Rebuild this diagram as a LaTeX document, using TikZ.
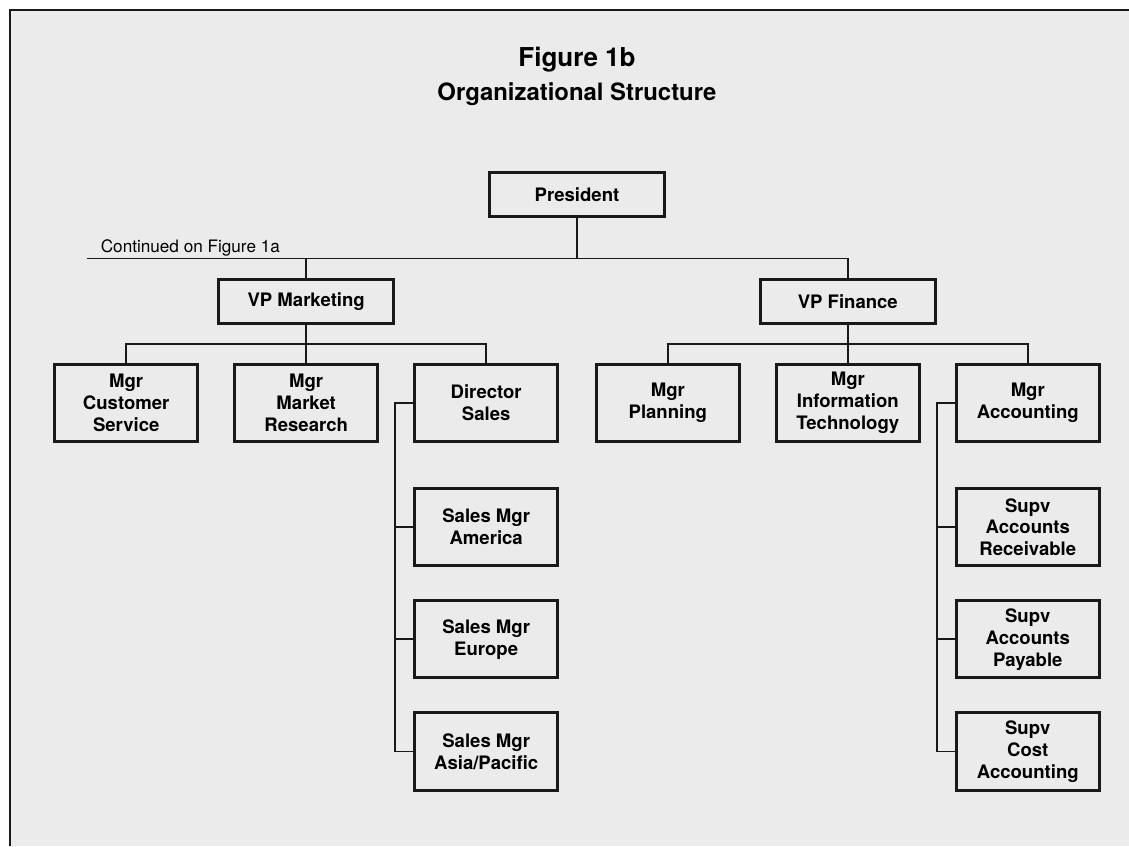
\documentclass[tikz,border=0pt]{standalone}
\usepackage{fontspec}
\setmainfont{TeX Gyre Heros}
\usetikzlibrary{positioning}
\definecolor{fundo}{RGB}{235,235,235}
\definecolor{traco}{RGB}{25,25,25}

\begin{document}
\begin{tikzpicture}[
    line width=1.2pt,
    draw=traco,
    font=\bfseries\fontsize{13.2}{15.6}\selectfont,
    node distance=0.85cm,
    cargo/.style={draw=traco, rectangle, line width=2.1pt, minimum width=3.576cm, minimum height=1.93cm, align=center, inner sep=2pt},
    diretoria/.style={cargo, minimum width=4.376cm, minimum height=1.1cm}
]
    % painel cinza com borda so em cima e a esquerda
    \useasboundingbox (-14.425,-16.29) rectangle (13.8,4.8625);
    \fill[fundo] (-14.175,-16.29) rectangle (13.8,4.6125);
    \draw[traco, line width=1pt] (-14.175,-16.29) |- (13.8,4.6125);

    \node[anchor=base, font=\bfseries\fontsize{18.5}{22}\selectfont] (titulo) at (0,3.21) {Figure 1b};
    \node[anchor=base, font=\bfseries\fontsize{17}{20}\selectfont] (subtitulo) at (0,2.36) {Organizational Structure};

    \node[diretoria] (presidente) {President};
    \node[diretoria, below=1.5cm of presidente, xshift=-6.77cm] (vpmkt) {VP Marketing};
    \node[diretoria, below=1.5cm of presidente, xshift=6.77cm] (vpfin) {VP Finance};

    % marketing
    \node[cargo, below=0.95cm of vpmkt] (pesquisa) {Mgr\\Market\\Research};
    \node[cargo, left=of pesquisa] (atendimento) {Mgr\\Customer\\Service};
    \node[cargo, right=of pesquisa] (vendas) {Director\\Sales};
    \node[cargo, below=1.1cm of vendas] (america) {Sales Mgr\\America};
    \node[cargo, below=0.8cm of america] (europa) {Sales Mgr\\Europe};
    \node[cargo, below=0.8cm of europa] (asia) {Sales Mgr\\Asia/Pacific};

    % financas
    \node[cargo, below=0.95cm of vpfin] (ti) {Mgr\\Information\\Technology};
    \node[cargo, left=of ti] (planejamento) {Mgr\\Planning};
    \node[cargo, right=of ti] (contabil) {Mgr\\Accounting};
    \node[cargo, below=1.1cm of contabil] (receber) {Supv\\Accounts\\Receivable};
    \node[cargo, below=0.8cm of receber] (pagar) {Supv\\Accounts\\Payable};
    \node[cargo, below=0.8cm of pagar] (custos) {Supv\\Cost\\Accounting};

    % linha que segue para a outra folha
    \coordinate (continua) at (-12.25,-1.6);
    \node[anchor=base west, inner sep=0pt, font=\fontsize{12.2}{14}\selectfont] (nota) at ([xshift=0.325cm, yshift=0.15cm]continua) {Continued on Figure 1a};

    \draw (vpfin.north) |- (continua);
    \draw (presidente.south) -- (presidente.south |- continua);
    \draw (vpmkt.north) -- (vpmkt.north |- continua);

    \draw (vpmkt.south) -- (pesquisa.north);
    \draw (atendimento.north) -- ++(0,0.475) -| (vendas.north);
    \draw (vpfin.south) -- (ti.north);
    \draw (planejamento.north) -- ++(0,0.475) -| (contabil.north);

    \draw (vendas.west) -- ++(-0.45,0) |- (asia.west);
    \draw (america.west) -- ++(-0.45,0);
    \draw (europa.west) -- ++(-0.45,0);

    \draw (contabil.west) -- ++(-0.45,0) |- (custos.west);
    \draw (receber.west) -- ++(-0.45,0);
    \draw (pagar.west) -- ++(-0.45,0);
\end{tikzpicture}
\end{document}
